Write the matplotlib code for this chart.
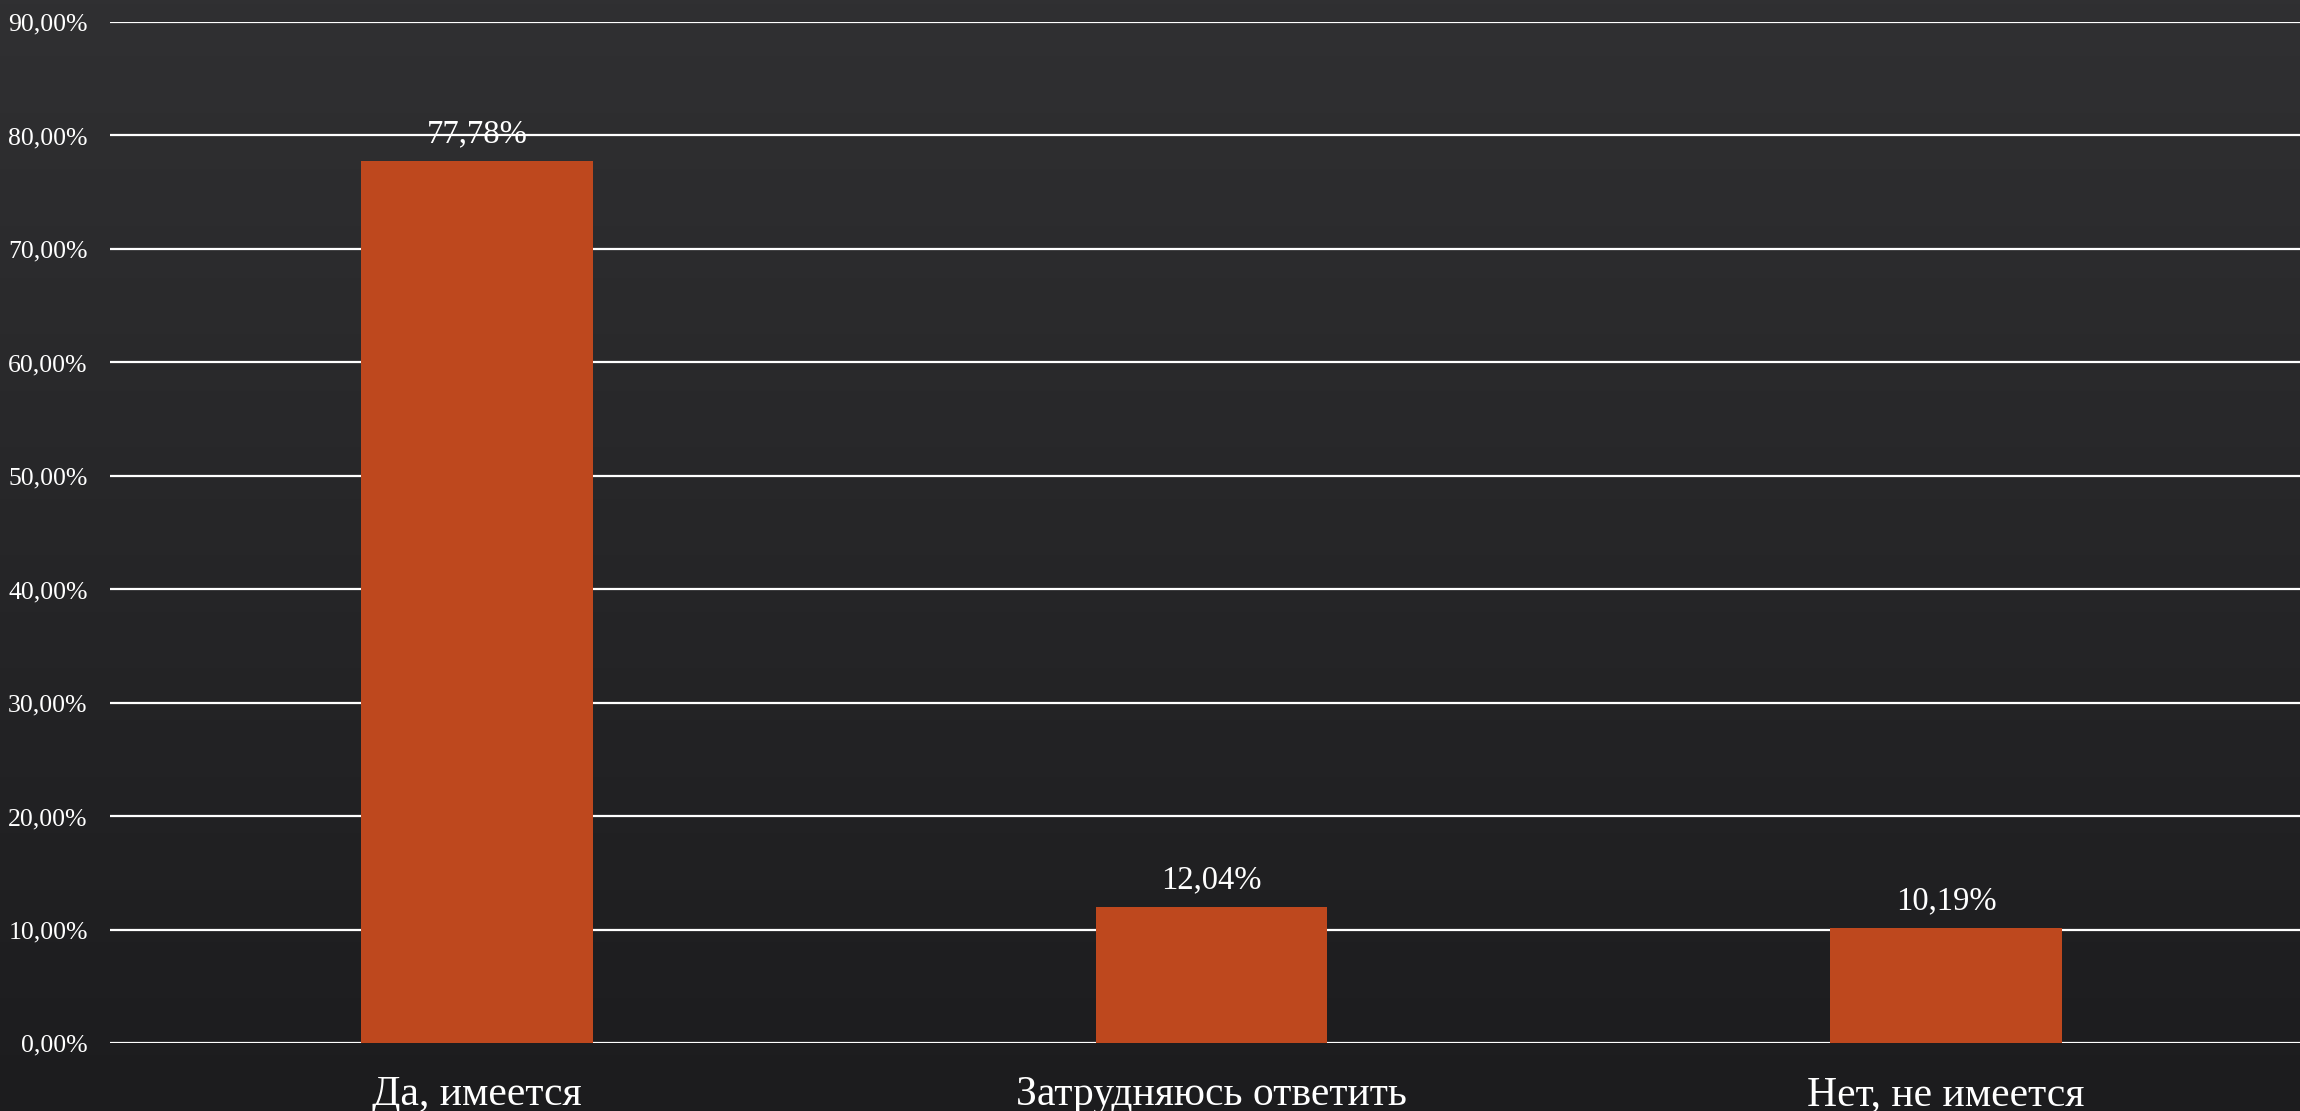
import numpy as np
import matplotlib.pyplot as plt

# survey answers and shares
categories = ['Да, имеется', 'Затрудняюсь ответить', 'Нет, не имеется']
values = [0.7778, 0.1204, 0.1019]
yticks = [0.0, 0.1, 0.2, 0.3, 0.4, 0.5, 0.6, 0.7, 0.8, 0.9]

plt.rcParams['font.family'] = ['Liberation Serif', 'DejaVu Serif']

fig = plt.figure(figsize=(23, 11.11), dpi=100)

# dark slate background, lighter at the top
bg = fig.add_axes([0, 0, 1, 1])
grad = np.linspace(0, 1, 256).reshape(-1, 1)
bg.imshow(grad, aspect='auto', cmap=plt.matplotlib.colors.LinearSegmentedColormap.from_list(
    'bg', ['#303032', '#1c1c1e']), extent=[0, 1, 0, 1], origin='upper')
bg.axis('off')

ax = fig.add_axes([0.0478, 0.0608, 0.958, 0.9194])
ax.patch.set_alpha(0)
x = np.arange(len(categories))
ax.bar(x, values, width=0.315, color='#BE481E', zorder=3)

for xi, v in zip(x, values):
    ax.annotate(f'{v*100:.2f}%'.replace('.', ','), (xi, v), xytext=(0, 8),
                textcoords='offset points', ha='center', va='bottom',
                fontsize=23.5, color='white', zorder=4)

ax.set_xlim(-0.5, 2.5)
ax.set_ylim(0, 0.9)
ax.set_yticks(yticks)
ax.set_yticklabels([f'{t*100:.2f}%'.replace('.', ',') for t in yticks])
ax.set_xticks(x)
ax.set_xticklabels(categories)
ax.tick_params(axis='y', length=0, pad=16, labelsize=18.5, labelcolor='white')
ax.tick_params(axis='x', length=0, pad=23, labelsize=30, labelcolor='white')
ax.grid(axis='y', color='white', linewidth=1.6, zorder=1)
for s in ax.spines.values():
    s.set_visible(False)

fig.savefig('out.png', dpi=100)
